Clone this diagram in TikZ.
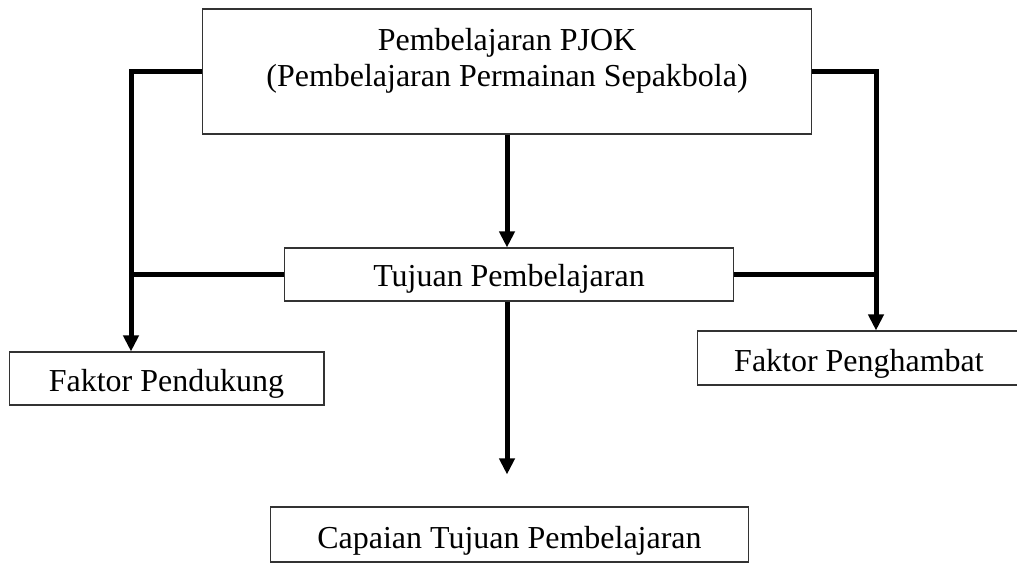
\documentclass[tikz,border=0pt]{standalone}
\usepackage{fontspec}
\setmainfont{Liberation Serif}
\usepackage{tikz}
\usetikzlibrary{arrows.meta}

\begin{document}
\begin{tikzpicture}[
    x=0.02cm, y=-0.02cm,
    box/.style={draw=black!80,rectangle,line width=0.6pt,inner sep=0pt,
                anchor=base,font=\fontsize{18.2}{21}\selectfont},
    link/.style={line width=0.1cm},
    arrow/.style={link,-{Triangle[length=0.32cm,width=0.3cm]}}
  ]
  \useasboundingbox (0,0) rectangle (1017,563);
  \clip (0,0) rectangle (1017,563);
  \node[box,align=center,minimum width=12.2cm,text height=1.56cm,text depth=0.94cm]
       (pjok) at (507,87) {Pembelajaran PJOK\\(Pembelajaran Permainan Sepakbola)};
  \node[box,minimum width=9cm,text height=0.78cm,text depth=0.28cm]
       (tjn) at (509,287) {Tujuan Pembelajaran};
  \node[box,minimum width=6.3cm,text height=0.8cm,text depth=0.26cm]
       (pdk) at (166.5,392) {Faktor Pendukung};
  \node[box,minimum width=6.48cm,text height=0.82cm,text depth=0.26cm]
       (phb) at (859,372) {Faktor Penghambat};
  \node[box,minimum width=9.58cm,text height=0.82cm,text depth=0.28cm]
       (cpn) at (509.5,548) {Capaian Tujuan Pembelajaran};
  % side lines
  \coordinate (lsp) at (131,0);
  \coordinate (rsp) at (876,0);
  \draw[arrow] (pjok.west) -| (pdk.north -| lsp);
  \draw[arrow] (pjok.east) -| (phb.north -| rsp);
  \draw[link] (tjn.west) -- (tjn.west -| lsp);
  \draw[link] (tjn.east) -- (tjn.east -| rsp);
  % middle
  \draw[arrow] (pjok.south) -- (tjn.north -| pjok.south);
  \draw[arrow,shorten >=0.64cm] (tjn.south -| pjok.south) -- (cpn.north -| pjok.south);
\end{tikzpicture}
\end{document}
